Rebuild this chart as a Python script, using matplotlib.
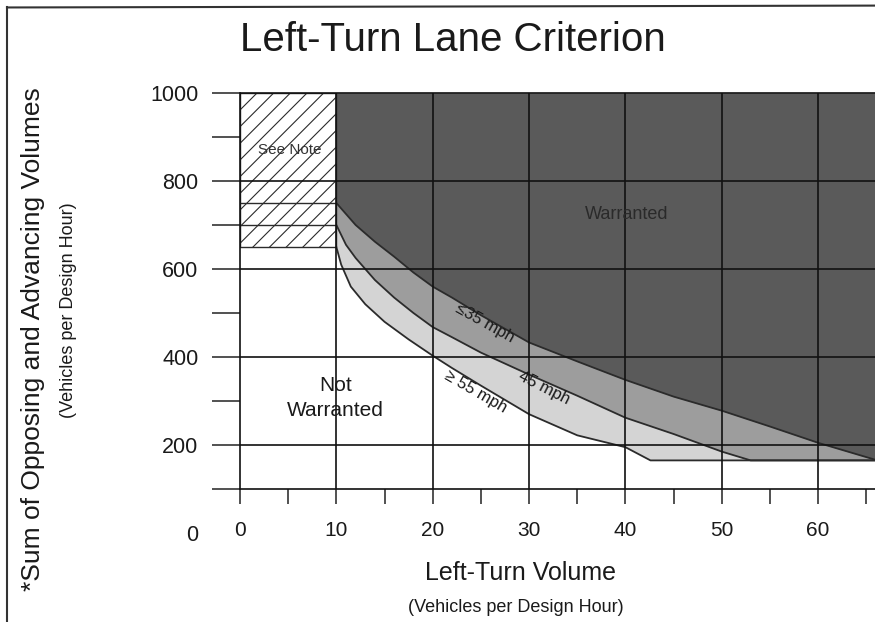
import numpy as np
import matplotlib.pyplot as plt
from matplotlib.patches import Rectangle
from matplotlib.lines import Line2D

plt.rcParams['font.family'] = ['Liberation Sans', 'DejaVu Sans']
plt.rcParams['hatch.linewidth'] = 0.8
plt.rcParams['hatch.color'] = '#444444'

# boundary curves (left-turn volume -> opposing + advancing volume)
x35 = [10, 12, 14, 16, 18, 20, 22, 25, 30, 35, 40, 45, 50, 55, 60, 66]
y35 = [750, 700, 662, 628, 592, 560, 535, 495, 433, 390, 348, 310, 278, 242, 205, 166]
x45 = [10, 11, 12, 14, 16, 18, 20, 22, 25, 30, 35, 40, 45, 50, 53]
y45 = [700, 655, 625, 575, 535, 500, 468, 445, 410, 360, 312, 262, 225, 185, 165]
x55 = [10, 10.5, 11.5, 13, 15, 17.5, 20, 22, 25, 30, 35, 40, 42.6]
y55 = [650, 610, 560, 520, 480, 440, 403, 375, 335, 270, 222, 195, 165]
floor_y = 165
x_end = 66

note_box = [0, 10, 650, 1000]      # x0, x1, y0, y1 of the "See Note" area
note_lines = [700, 750]

xticks_major = [0, 10, 20, 30, 40, 50, 60]
xticks_minor = [5, 15, 25, 35, 45, 55, 65]
yticks_major = [0, 200, 400, 600, 800, 1000]
yticks_minor = [100, 300, 500, 700, 900]

c_dark = '#5a5a5a'
c_mid = '#9d9d9d'
c_light = '#d4d4d4'
c_line = '#2b2b2b'
c_text = '#1a1a1a'

fig = plt.figure(figsize=(8.75, 6.22), dpi=100)
ax = fig.add_axes([240/875, 1-533/622, 1-240/875, (533-93)/622])

def ext(x, y):
    if x[-1] < x_end:
        return x + [x_end], y + [floor_y]
    return x, y

xs55, ys55 = ext(x55, y55)
xs45, ys45 = ext(x45, y45)
xs35, ys35 = ext(x35, y35)

ax.fill_between(xs55, ys55, 1000, color=c_light, lw=0, zorder=1)
ax.fill_between(xs45, ys45, 1000, color=c_mid, lw=0, zorder=1.1)
ax.fill_between(xs35, ys35, 1000, color=c_dark, lw=0, zorder=1.2)

for xs, ys in [(xs55, ys55), (xs45, ys45), (xs35, ys35)]:
    ax.plot(xs, ys, color=c_line, lw=1.3, zorder=2)

# see note box
ax.add_patch(Rectangle((note_box[0], note_box[2]), note_box[1]-note_box[0], note_box[3]-note_box[2],
                       facecolor='white', edgecolor=c_line, hatch='//', lw=1.0, zorder=2))
ax.hlines(note_lines, note_box[0], note_box[1], color=c_line, lw=1.0, zorder=3)

# grid
ax.vlines(xticks_major[1:], 100, 1000, color='#111111', lw=1.2, zorder=3)
ax.hlines([200, 400, 600, 800, 1000], 0, x_end, color='#111111', lw=1.2, zorder=3, clip_on=False)

ax.set_xlim(0, 65.9)
ax.set_ylim(0, 1000)
for s in ['top', 'right']:
    ax.spines[s].set_visible(False)
ax.spines['bottom'].set_position(('data', 100))
ax.spines['left'].set_bounds(100, 1000)
for s in ['bottom', 'left']:
    ax.spines[s].set_linewidth(1.2)
    ax.spines[s].set_color('#111111')
    ax.spines[s].set_zorder(4)

ax.set_xticks(xticks_major)
ax.set_xticks(xticks_minor, minor=True)
ax.set_yticks(yticks_major)
ax.set_yticks(yticks_minor, minor=True)
ax.tick_params(axis='x', which='both', length=11, width=1.2, color='#333333', pad=12,
               labelsize=15, labelcolor=c_text)
ax.tick_params(axis='y', which='both', length=20, width=1.2, color='#333333', pad=10,
               labelsize=15.5, labelcolor=c_text)
ax.yaxis.get_major_ticks()[0].tick1line.set_visible(False)

# labels inside
ax.text(5.2, 870, 'See Note', ha='center', va='center', fontsize=11, color='#333333', zorder=5)
ax.text(40.1, 723, 'Warranted', ha='center', va='center', fontsize=13, color='#2a2a2a', zorder=5)
ax.text(9.9, 307, 'Not\nWarranted', ha='center', va='center', fontsize=15, color=c_text,
        linespacing=1.4, zorder=5)
ax.text(25.4, 477, '≤35 mph', ha='center', va='center', rotation=-29, rotation_mode='anchor',
        fontsize=12, color=c_text, zorder=5)
ax.text(31.6, 330, '45 mph', ha='center', va='center', rotation=-27, rotation_mode='anchor',
        fontsize=12, color=c_text, zorder=5)
ax.text(24.5, 320, '≥ 55 mph', ha='center', va='center', rotation=-30, rotation_mode='anchor',
        fontsize=12, color=c_text, zorder=5)

fig.text(0.517, 0.936, 'Left-Turn Lane Criterion', ha='center', va='center', fontsize=29, color=c_text)
fig.text(0.595, 0.079, 'Left-Turn Volume', ha='center', va='center', fontsize=18, color=c_text)
fig.text(0.590, 0.024, '(Vehicles per Design Hour)', ha='center', va='center', fontsize=13, color=c_text)
fig.text(0.038, 0.455, '*Sum of Opposing and Advancing Volumes', ha='center', va='center',
         rotation=90, fontsize=19, color=c_text)
fig.text(0.078, 0.502, '(Vehicles per Design Hour)', ha='center', va='center',
         rotation=90, fontsize=13, color=c_text)

# frame around the figure
fig.add_artist(Line2D([0.008, 0.008], [0, 0.988], color='#333333', lw=1.5))
fig.add_artist(Line2D([0.008, 1], [0.988, 0.991], color='#333333', lw=1.5))

fig.savefig('out.png', dpi=100)
